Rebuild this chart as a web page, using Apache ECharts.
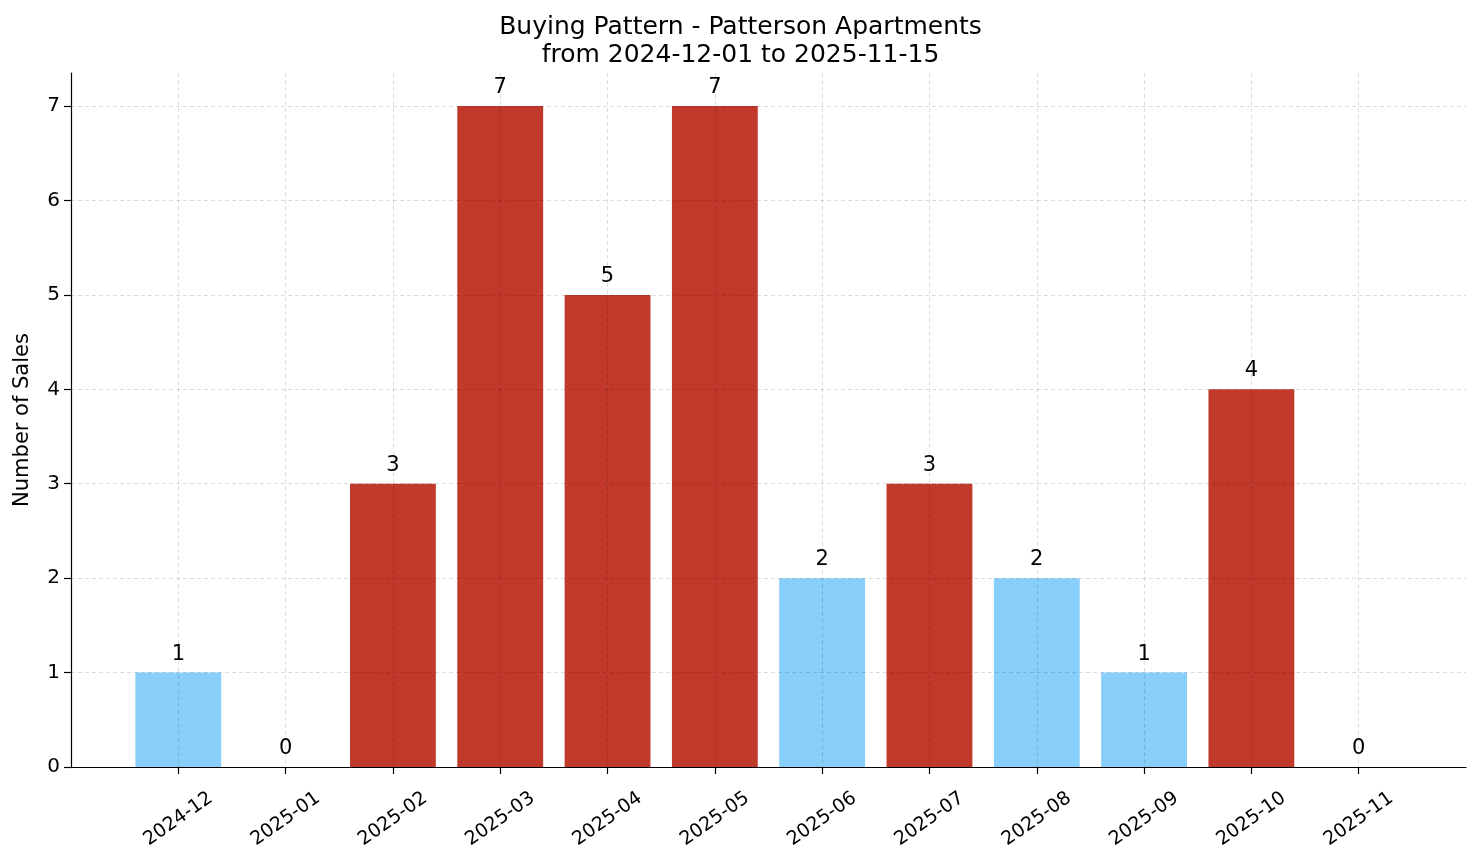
<!DOCTYPE html>
<html>
<head>
<meta charset="utf-8">
<script src="https://cdn.jsdelivr.net/npm/echarts@6/dist/echarts.min.js"></script>
<style>
  html, body { margin: 0; padding: 0; background: #fff; }
  #chart { width: 1481px; height: 863px; }
</style>
</head>
<body>
<div id="chart"></div>
<script>
// months shown on the x axis
var months = ['2024-12', '2025-01', '2025-02', '2025-03', '2025-04', '2025-05',
              '2025-06', '2025-07', '2025-08', '2025-09', '2025-10', '2025-11'];
// number of sales per month
var sales = [1, 0, 3, 7, 5, 7, 2, 3, 2, 1, 4, 0];
var yTicks = [0, 1, 2, 3, 4, 5, 6, 7];

var highColor = '#c0392b';
var lowColor = '#87cefa';
var font = 'DejaVu Sans';
var gridColor = 'rgba(0,0,0,0.17)';

// pad with empty slots so the axis runs from -1 to 12 like the original
var cats = [''].concat(months, ['']);
var barData = [null].concat(sales.map(function (v) {
    return { value: v, itemStyle: { color: v >= 3 ? highColor : lowColor } };
}), [null]);

var myChart = echarts.init(document.getElementById('chart'));
var option = {
    animation: false,
    title: {
        text: 'Buying Pattern - Patterson Apartments\nfrom 2024-12-01 to 2025-11-15',
        left: 'center',
        top: 8,
        textStyle: { fontFamily: font, fontSize: 25, fontWeight: 'normal', color: '#000', lineHeight: 28 }
    },
    grid: { left: 71, right: 15, top: 73, bottom: 96, outerBoundsMode: 'none', containLabel: false },
    xAxis: {
        type: 'category',
        data: cats,
        boundaryGap: false,
        z: 3,
        axisLine: { lineStyle: { color: '#000', width: 1.2 } },
        axisTick: {
            length: 7,
            lineStyle: { color: '#000', width: 1.2 },
            interval: function (i, v) { return v !== ''; }
        },
        axisLabel: {
            rotate: 35,
            interval: 0,
            margin: 52,
            align: 'center',
            verticalAlign: 'middle',
            fontFamily: font,
            fontSize: 19,
            color: '#000'
        },
        splitLine: {
            show: true,
            interval: function (i, v) { return v !== ''; },
            lineStyle: { color: gridColor, type: [4, 3], width: 0.8 }
        }
    },
    yAxis: {
        type: 'value',
        min: 0,
        max: 7.35,
        z: 3,
        name: 'Number of Sales',
        nameLocation: 'middle',
        nameGap: 38,
        nameTextStyle: { fontFamily: font, fontSize: 21, color: '#000' },
        axisLine: { show: true, lineStyle: { color: '#000', width: 1.2 } },
        axisTick: { show: true, length: 7, customValues: yTicks, lineStyle: { color: '#000', width: 1.2 } },
        axisLabel: {
            customValues: yTicks,
            margin: 11,
            fontFamily: font,
            fontSize: 20,
            color: '#000'
        },
        splitLine: { show: true, lineStyle: { color: gridColor, type: [4, 3], width: 0.8 } }
    },
    series: [{
        type: 'bar',
        data: barData,
        barWidth: '80%',
        label: {
            show: true,
            position: 'top',
            distance: 8,
            fontFamily: font,
            fontSize: 21,
            color: '#000'
        }
    }]
};
myChart.setOption(option);
</script>
</body>
</html>
